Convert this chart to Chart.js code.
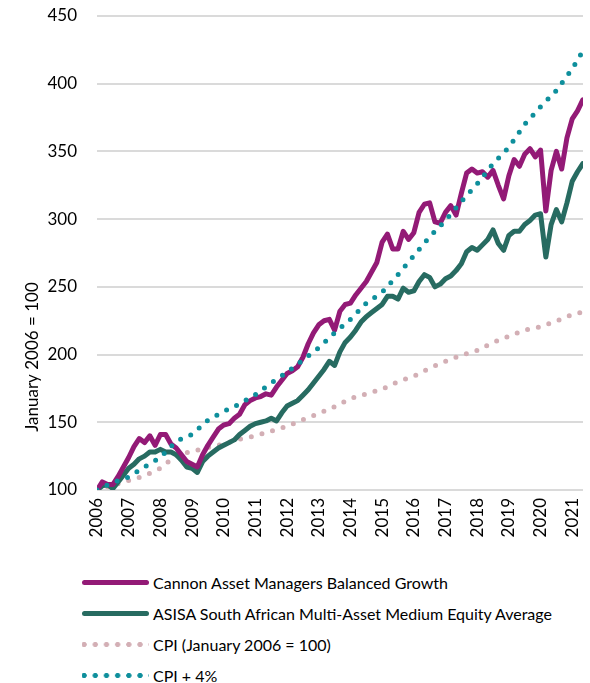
<!DOCTYPE html>
<html>
<head>
<meta charset="utf-8">
<script src="https://cdn.jsdelivr.net/npm/chart.js@4.4.1/dist/chart.umd.min.js"></script>
<style>
  body { margin: 0; background: #fff; font-family: Lato, sans-serif; }
  #wrap { position: relative; width: 590px; height: 683px; }
  #box { position: absolute; left: 0; top: 0; width: 590px; height: 550px; }
  #legend { position: absolute; left: 0; top: 0; width: 590px; }
  .row { position: absolute; left: 82px; height: 20px; display: flex; align-items: center; font-size: 16px; color: #000; white-space: nowrap; }
  .sw { width: 67px; height: 5px; margin-right: 4px; flex: none; }
  .solid { border-radius: 3px; }
</style>
</head>
<body>
<div id="wrap">
  <div id="box"><canvas id="chart"></canvas></div>
  <div id="legend"></div>
</div>
<script>
// bi-monthly fund values, Jan 2006 .. May 2021
const cannon = [
  100, 106, 104, 104, 110, 117,
  124, 132, 138, 135, 140, 133,
  141, 141, 134, 131, 126, 121,
  119, 117, 126, 133, 139, 145,
  148, 149, 153, 156, 163, 166,
  168, 169, 171, 170, 176, 181,
  186, 188, 191, 198, 208, 216,
  222, 225, 226, 218, 232, 237,
  238, 244, 249, 254, 261, 268,
  283, 289, 278, 278, 291, 285,
  290, 305, 311, 312, 298, 297,
  305, 310, 303, 319, 334, 337,
  334, 335, 331, 336, 325, 315,
  332, 344, 339, 348, 352, 346,
  351, 306, 336, 350, 337, 360,
  374, 380, 388
];
const asisa = [
  100, 103, 104, 101, 106, 111,
  116, 119, 123, 125, 128, 128,
  130, 128, 128, 126, 122, 117,
  116, 113, 121, 125, 128, 131,
  133, 135, 137, 141, 144, 147,
  149, 150, 151, 153, 151, 157,
  162, 164, 166, 170, 174, 179,
  184, 189, 195, 192, 202, 209,
  213, 218, 224, 228, 231, 234,
  237, 243, 243, 241, 249, 246,
  247, 254, 259, 257, 250, 252,
  256, 258, 262, 267, 276, 279,
  277, 281, 285, 292, 282, 277,
  288, 291, 291, 296, 299, 303,
  304, 272, 296, 307, 298, 312,
  328, 335, 341
];
const fundDates = cannon.map((_, i) => 2006 + i / 6);

// half-yearly index values
const cpiDates = [
  2006, 2006.5, 2007, 2007.5, 2008, 2008.5, 2009, 2009.5, 2010, 2010.5,
  2011, 2011.5, 2012, 2012.5, 2013, 2013.5, 2014, 2014.5, 2015, 2015.5,
  2016, 2016.5, 2017, 2017.5, 2018, 2018.5, 2019, 2019.5, 2020, 2020.5,
  2021, 2021.33
];
const cpi = [
  100, 103.5, 107, 110.5, 116, 125.5, 128.5, 131.5, 134, 137.6,
  140, 143.5, 147, 152, 156.5, 161.5, 167.5, 171, 174.5, 180,
  184, 190, 195, 199.5, 203, 209, 213.5, 218, 220.5, 224.8,
  229.5, 231.5
];
const cpiPlus4 = [
  100, 105.5, 109.5, 117, 124, 136, 141, 151.5, 158, 163.5,
  170.5, 179, 187, 196, 205, 216, 226, 238, 246, 259,
  273, 287, 299, 313, 326, 341, 353, 370, 383, 395,
  411, 424
];

const yearTicks = [2006, 2007, 2008, 2009, 2010, 2011, 2012, 2013, 2014, 2015, 2016, 2017, 2018, 2019, 2020, 2021];

const series = [
  { label: 'Cannon Asset Managers Balanced Growth', dates: fundDates, values: cannon, color: '#931A76', dotted: false, order: 1 },
  { label: 'ASISA South African Multi-Asset Medium Equity Average', dates: fundDates, values: asisa, color: '#276B61', dotted: false, order: 2 },
  { label: 'CPI (January 2006 = 100)', dates: cpiDates, values: cpi, color: '#D3AFB5', dotted: true, order: 3 },
  { label: 'CPI + 4%', dates: cpiDates, values: cpiPlus4, color: '#0E8F9C', dotted: true, order: 0 }
];

const yTitle = {
  id: 'yTitle',
  afterDraw(chart) {
    const ctx = chart.ctx;
    ctx.save();
    ctx.translate(33, 357);
    ctx.rotate(-Math.PI / 2);
    ctx.font = '17px Lato';
    ctx.fillStyle = '#000';
    ctx.textAlign = 'center';
    ctx.textBaseline = 'middle';
    ctx.fillText('January 2006 = 100', 0, 0);
    ctx.restore();
  }
};

new Chart(document.getElementById('chart'), {
  type: 'line',
  data: {
    datasets: series.map(s => ({
      label: s.label,
      data: s.values.map((v, i) => ({ x: s.dates[i], y: v })),
      borderColor: s.color,
      backgroundColor: s.color,
      borderWidth: 5,
      borderDash: s.dotted ? [0, 11] : [],
      borderCapStyle: 'round',
      borderJoinStyle: 'round',
      pointRadius: 0,
      tension: 0,
      fill: false,
      order: s.order
    }))
  },
  options: {
    responsive: true,
    maintainAspectRatio: false,
    animation: false,
    layout: { padding: { top: 16, right: 7, left: 0, bottom: 0 } },
    plugins: { legend: { display: false }, tooltip: { enabled: false } },
    scales: {
      x: {
        type: 'linear',
        min: 2006,
        max: 2021.34,
        afterBuildTicks: scale => { scale.ticks = yearTicks.map(v => ({ value: v })); },
        afterFit: scale => {
          scale.height = 60;
          scale.paddingLeft = 0;
          scale.paddingRight = 0;
        },
        grid: { display: false, drawTicks: false },
        border: { display: false },
        ticks: {
          autoSkip: false,
          minRotation: 90,
          maxRotation: 90,
          padding: 8,
          color: '#000',
          font: { family: 'Lato', size: 17 },
          callback: v => String(v)
        }
      },
      y: {
        min: 100,
        max: 450,
        afterFit: scale => {
          scale.width = 97;
          scale.paddingTop = 0;
          scale.paddingBottom = 0;
        },
        grid: { color: '#DADADA', lineWidth: 2, drawTicks: false },
        border: { display: false },
        ticks: {
          stepSize: 50,
          padding: 20,
          color: '#000',
          font: { family: 'Lato', size: 17 }
        }
      }
    }
  },
  plugins: [yTitle]
});

// legend rows below the chart
const legendTops = [572, 603, 634, 665];
const legend = document.getElementById('legend');
series.forEach((s, i) => {
  const row = document.createElement('div');
  row.className = 'row';
  row.style.top = legendTops[i] + 'px';
  const sw = document.createElement('span');
  if (s.dotted) {
    sw.className = 'sw';
    sw.style.background = `radial-gradient(circle, ${s.color} 2.3px, transparent 2.9px) -3.5px 0 / 11.2px 5px repeat-x`;
  } else {
    sw.className = 'sw solid';
    sw.style.background = s.color;
  }
  const txt = document.createElement('span');
  txt.textContent = s.label;
  row.appendChild(sw);
  row.appendChild(txt);
  legend.appendChild(row);
});
</script>
</body>
</html>
